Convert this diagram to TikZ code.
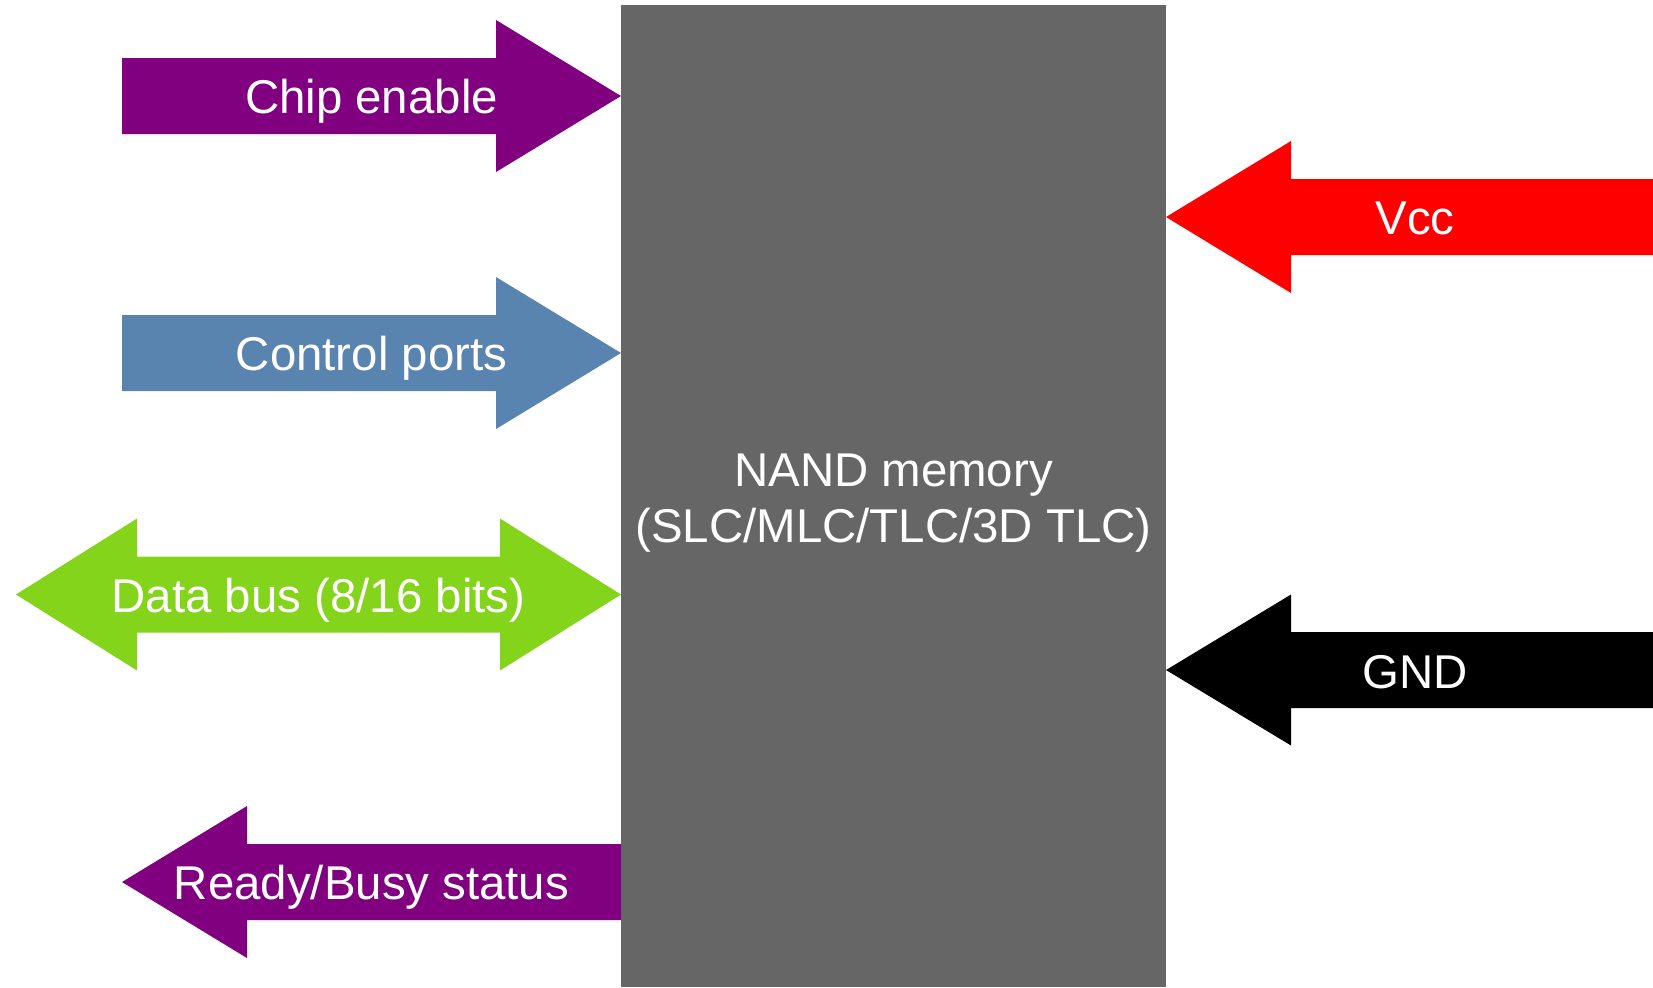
\documentclass[tikz,border=0pt]{standalone}
\usepackage{fontspec}
\setmainfont{Liberation Sans}
\definecolor{cpurple}{HTML}{800080}
\definecolor{cblue}{HTML}{5A84B0}
\definecolor{cgreen}{HTML}{84D41C}
\definecolor{cgray}{HTML}{666666}
\definecolor{cred}{HTML}{FF0000}
\tikzset{
  lbl/.style={text=white, font=\fontsize{23.7}{28}\selectfont, anchor=base, inner sep=0pt},
  shapefill/.style={draw=none, fill=#1}
}
\begin{document}
\begin{tikzpicture}[x=0.5pt, y=-0.5pt]
\useasboundingbox (0,0) rectangle (1653,987);
% NAND block
\node[shapefill=cgray, minimum width=272.5pt, minimum height=491pt, inner sep=0pt, anchor=north west] (nand) at (621,5) {};
\node[lbl] (nand1) at (893.5,486) {NAND memory};
\node[lbl] (nand2) at (893.5,542) {(SLC/MLC/TLC/3D TLC)};
% Chip enable
\fill[cpurple] (122,58) -- (496,58) -- (496,20) -- (621,96) -- (496,172) -- (496,134) -- (122,134) -- cycle;
\node[lbl] (ce) at (371.5,113) {Chip enable};
% Control ports
\fill[cblue] (122,315) -- (496,315) -- (496,277) -- (621,353) -- (496,429) -- (496,391) -- (122,391) -- cycle;
\node[lbl] (cp) at (371.5,370) {Control ports};
% Data bus
\fill[cgreen] (16,594.5) -- (137,518.5) -- (137,556.5) -- (500,556.5) -- (500,518.5) -- (621,594.5) -- (500,670.5) -- (500,632.5) -- (137,632.5) -- (137,670.5) -- cycle;
\node[lbl] (db) at (318.5,612) {Data bus (8/16 bits)};
% Ready/Busy
\fill[cpurple] (122,882) -- (247,806) -- (247,844) -- (621,844) -- (621,920) -- (247,920) -- (247,958) -- cycle;
\node[lbl] (rb) at (371.5,899.5) {Ready/Busy status};
% Vcc
\fill[cred] (1166,217) -- (1291,141) -- (1291,179) -- (1653,179) -- (1653,255) -- (1291,255) -- (1291,293) -- cycle;
\node[lbl] (vcc) at (1415,234.5) {Vcc};
% GND
\fill[black] (1166,670) -- (1291,594.5) -- (1291,632) -- (1653,632) -- (1653,708) -- (1291,708) -- (1291,745.5) -- cycle;
\node[lbl] (gnd) at (1415,688) {GND};
\end{tikzpicture}
\end{document}
